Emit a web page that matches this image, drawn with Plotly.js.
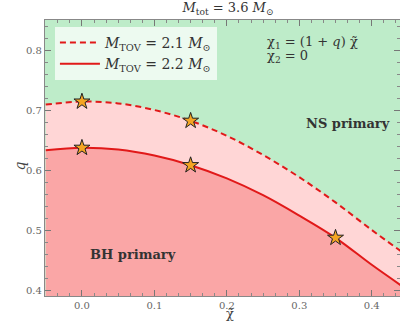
<!DOCTYPE html>
<html>
<head>
<meta charset="utf-8">
<script src="https://cdn.plot.ly/plotly-3.0.1.min.js"></script>
<style>html,body{margin:0;padding:0;background:#fff;}#chart{width:400px;height:322px;}</style>
</head>
<body>
<div id="chart"></div>
<script>
// Data
const chiTilde = [-0.05, 0.0, 0.05, 0.1, 0.15, 0.2, 0.25, 0.3, 0.35, 0.4, 0.44];
const qTov21 = [0.709, 0.714, 0.711, 0.700, 0.682, 0.657, 0.625, 0.588, 0.546, 0.500, 0.465];
const qTov22 = [0.633, 0.637, 0.634, 0.624, 0.608, 0.586, 0.558, 0.524, 0.487, 0.442, 0.408];
const starsChi21 = [0.0, 0.15];
const starsQ21 = [0.714, 0.682];
const starsChi22 = [0.0, 0.15, 0.35];
const starsQ22 = [0.637, 0.608, 0.487];
const legendLabels = ["<i>M</i><sub>TOV</sub> = 2.1 <i>M</i><sub>⊙</sub>", "<i>M</i><sub>TOV</sub> = 2.2 <i>M</i><sub>⊙</sub>"];
const xLabel = "χ̃";
const yLabel = "<i>q</i>";

const SERIF = "DejaVu Serif";
const RED = "rgb(225,25,25)";
const traces = [
  {x: chiTilde, y: qTov21, mode: "lines", line: {width: 0, shape: "spline"}, fill: "tozeroy",
   fillcolor: "rgb(255,214,214)", showlegend: false, hoverinfo: "skip"},
  {x: chiTilde, y: qTov22, mode: "lines", line: {width: 0, shape: "spline"}, fill: "tozeroy",
   fillcolor: "rgb(250,166,166)", showlegend: false, hoverinfo: "skip"},
  {x: chiTilde, y: qTov21, mode: "lines", name: legendLabels[0],
   line: {color: RED, width: 2, dash: "6px,4px", shape: "spline"}},
  {x: chiTilde, y: qTov22, mode: "lines", name: legendLabels[1],
   line: {color: RED, width: 2, shape: "spline"}},
  {x: starsChi21.concat(starsChi22), y: starsQ21.concat(starsQ22), mode: "markers", showlegend: false,
   marker: {symbol: "star", size: 12, color: "rgb(245,165,35)", line: {color: "#222", width: 1}}}
];

const axisCommon = {
  showgrid: false, zeroline: false, showline: true, linecolor: "#888", linewidth: 1.2, mirror: "allticks",
  ticks: "inside", ticklen: 6, tickcolor: "#777", tickwidth: 1,
  tickfont: {family: SERIF, size: 10, color: "#666"}, tickformat: ".1f", automargin: false
};

const layout = {
  width: 400, height: 322,
  margin: {l: 45, r: 0, t: 20, b: 26},
  paper_bgcolor: "#fff",
  plot_bgcolor: "rgb(190,236,201)",
  title: {text: "<i>M</i><sub>tot</sub> = 3.6 <i>M</i><sub>⊙</sub>", font: {family: SERIF, size: 13, color: "#333"},
          x: 0.57, xanchor: "center", y: 0.99, yanchor: "top"},
  xaxis: Object.assign({}, axisCommon, {
    range: [-0.051, 0.439], dtick: 0.1, tick0: 0,
    minor: {ticks: "inside", ticklen: 3, dtick: 0.1/6, tick0: 0, tickcolor: "#888"}
  }),
  yaxis: Object.assign({}, axisCommon, {
    range: [0.39, 0.85], dtick: 0.1, tick0: 0,
    minor: {ticks: "inside", ticklen: 3, dtick: 0.02, tick0: 0, tickcolor: "#888"}
  }),
  legend: {x: 0.028, y: 0.975, xanchor: "left", yanchor: "top",
           bgcolor: "rgba(255,255,255,0.72)", borderwidth: 0,
           font: {family: SERIF, size: 14, color: "#333"}, tracegroupgap: 0, itemwidth: 40},
  annotations: [
    {x: 0.52, y: 0, xref: "paper", yref: "paper", yanchor: "middle", yshift: -17, showarrow: false,
     text: xLabel, font: {family: SERIF, size: 13, color: "#444"}},
    {x: -0.07, y: 0.47, xref: "paper", yref: "paper", xanchor: "center", showarrow: false, textangle: -90,
     text: yLabel, font: {family: SERIF, size: 14, color: "#444"}},
    {x: 0.252, y: 0.812, xref: "x", yref: "y", xanchor: "left", showarrow: false,
     text: "χ<sub>1</sub> = (1 + <i>q</i>) χ̃", font: {family: SERIF, size: 13, color: "#333"}},
    {x: 0.252, y: 0.789, xref: "x", yref: "y", xanchor: "left", showarrow: false,
     text: "χ<sub>2</sub> = 0", font: {family: SERIF, size: 13, color: "#333"}},
    {x: 0.367, y: 0.678, xref: "x", yref: "y", showarrow: false,
     text: "<b>NS primary</b>", font: {family: SERIF, size: 13, color: "#333"}},
    {x: 0.07, y: 0.46, xref: "x", yref: "y", showarrow: false,
     text: "<b>BH primary</b>", font: {family: SERIF, size: 13, color: "#333"}}
  ]
};

Plotly.newPlot("chart", traces, layout, {displayModeBar: false, staticPlot: true});
</script>
</body>
</html>
